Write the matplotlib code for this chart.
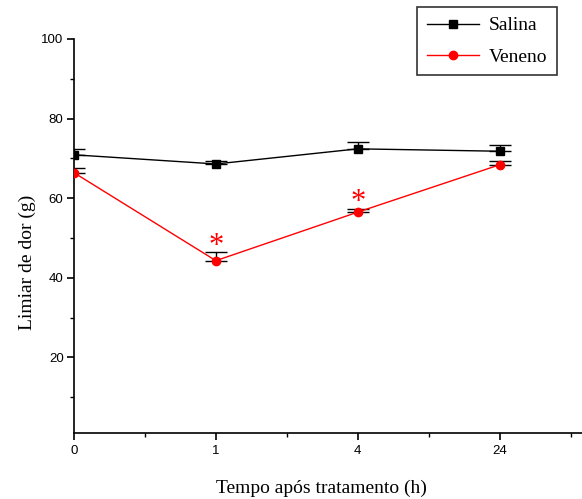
import matplotlib
matplotlib.use("Agg")
import matplotlib.pyplot as plt
import numpy as np
from matplotlib.ticker import FixedLocator

# Time points (h) and nociceptive threshold (g)
time_labels = ["0", "1", "4", "24"]
salina_mean = [70.9, 68.6, 72.4, 71.8]
salina_err = [1.5, 0.8, 1.8, 1.5]
veneno_mean = [66.4, 44.3, 56.5, 68.4]
veneno_err = [1.1, 2.1, 0.9, 1.0]
significant = [False, True, True, False]

serif = ["Liberation Serif", "DejaVu Serif"]
sans = ["Liberation Sans", "DejaVu Sans"]

fig = plt.figure(figsize=(5.82, 4.99), dpi=100)
ax = fig.add_axes([74 / 582, 1 - 433 / 499, 1 - 74 / 582, (433 - 39) / 499])

x = np.arange(len(time_labels))

# upper error bars only, black caps
ax.errorbar(x, salina_mean, yerr=[np.zeros(len(x)), salina_err], fmt="none",
            ecolor="black", elinewidth=1, capsize=8, capthick=1, zorder=2)
ax.errorbar(x, veneno_mean, yerr=[np.zeros(len(x)), veneno_err], fmt="none",
            ecolor="black", elinewidth=1, capsize=8, capthick=1, zorder=2)

ax.plot(x, salina_mean, color="black", lw=1, marker="s", ms=5.5,
        mfc="black", mec="black", label="Salina", zorder=3)
ax.plot(x, veneno_mean, color="red", lw=1, marker="o", ms=6,
        mfc="red", mec="red", label="Veneno", zorder=3)

# significance marks above the venom group
for xi, m, e, s in zip(x, veneno_mean, veneno_err, significant):
    if s:
        ax.text(xi, m + e + 1.4, "*", color="red", ha="center", va="center",
                fontsize=22, family=serif)

ax.set_xlim(0, 3.58)
ax.set_ylim(1, 100)
ax.xaxis.set_major_locator(FixedLocator(x))
ax.set_xticklabels(time_labels)
ax.xaxis.set_minor_locator(FixedLocator([0.5, 1.5, 2.5, 3.5]))
ax.yaxis.set_major_locator(FixedLocator([20, 40, 60, 80, 100]))
ax.yaxis.set_minor_locator(FixedLocator([10, 30, 50, 70, 90]))

for side in ("top", "right"):
    ax.spines[side].set_visible(False)
for side in ("left", "bottom"):
    ax.spines[side].set_linewidth(1.2)

ax.tick_params(which="major", direction="out", length=5, width=1.2,
               labelsize=9.5, pad=2.5)
ax.tick_params(which="minor", direction="out", length=3, width=1)
ax.tick_params(axis="x", which="major", pad=4)
for lab in ax.get_xticklabels() + ax.get_yticklabels():
    lab.set_family(sans)

ax.set_xlabel("Tempo após tratamento (h)", family=serif, fontsize=14,
              labelpad=16)
ax.set_ylabel("Limiar de dor (g)", family=serif, fontsize=14)
ax.yaxis.set_label_coords(-0.074, 0.434)
ax.xaxis.label.set_x(0.488)

leg = fig.legend(loc="upper right", bbox_to_anchor=(557 / 582, 1 - 7 / 499),
                 prop={"family": serif, "size": 14}, frameon=True,
                 fancybox=False, edgecolor="black", handlelength=2.7,
                 borderpad=0.5, labelspacing=0.7, borderaxespad=0,
                 handletextpad=0.5)
leg.get_frame().set_linewidth(1.2)

fig.savefig("out.png", dpi=100)
